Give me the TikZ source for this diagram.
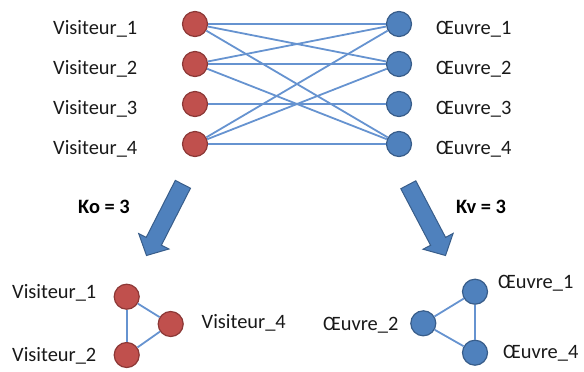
\documentclass[tikz,border=0pt]{standalone}
\usepackage{fontspec}
\setmainfont{Carlito}
\definecolor{redfill}{HTML}{C0504D}
\definecolor{redline}{HTML}{8C3836}
\definecolor{bluefill}{HTML}{4F81BD}
\definecolor{blueline}{HTML}{385D8A}
\definecolor{edgecol}{HTML}{6693D0}
\begin{document}
\begin{tikzpicture}[x=1bp,y=-1bp,
  vis/.style={circle,fill=redfill,draw=redline,line width=1.2bp,minimum size=25bp,inner sep=0},
  oeu/.style={circle,fill=bluefill,draw=blueline,line width=1.2bp,minimum size=25bp,inner sep=0},
  lbl/.style={anchor=base west,inner sep=0,font=\fontsize{20.5}{24}\selectfont,text=black!90},
  klbl/.style={anchor=base west,inner sep=0,font=\fontsize{20.5}{24}\selectfont\bfseries},
  edge/.style={draw=edgecol,line width=1.8bp},
  bigarrow/.style={fill=bluefill,draw=blueline,line width=1bp,line join=miter}]
\useasboundingbox (0,0) rectangle (584,371);
% top graph
\node[vis] (v1) at (195,24) {};
\node[vis] (v2) at (195,64) {};
\node[vis] (v3) at (195,104) {};
\node[vis] (v4) at (195,144) {};
\node[oeu] (o1) at (399,24) {};
\node[oeu] (o2) at (399,64) {};
\node[oeu] (o3) at (399,104) {};
\node[oeu] (o4) at (399,144) {};
\node[lbl] (lv1) at (53,34.3) {Visiteur\_1};
\node[lbl] (lv2) at (53,74.3) {Visiteur\_2};
\node[lbl] (lv3) at (53,114.3) {Visiteur\_3};
\node[lbl] (lv4) at (53,154.3) {Visiteur\_4};
\node[lbl] (lo1) at (436,34.3) {Œuvre\_1};
\node[lbl] (lo2) at (436,74.3) {Œuvre\_2};
\node[lbl] (lo3) at (436,114.3) {Œuvre\_3};
\node[lbl] (lo4) at (436,154.3) {Œuvre\_4};
\foreach \a/\b in {v1/o1,v1/o2,v1/o4,v2/o1,v2/o2,v2/o4,v3/o3,v4/o1,v4/o2,v4/o4}
  \draw[edge] (\a) -- (\b);
% arrows
\draw[bigarrow] (175.3,180.4) -- (190.5,188.2) -- (161.4,245.2) -- (168.9,249.0)
  -- (146.5,255.5) -- (138.7,233.6) -- (146.2,237.4) -- cycle;
\draw[bigarrow] (400.8,188.7) -- (415.8,180.8) -- (445.6,237.4) -- (453.1,233.4)
  -- (445.5,255.5) -- (423.0,249.2) -- (430.6,245.3) -- cycle;
\node[klbl] (ko) at (78,213.3) {Ko = 3};
\node[klbl] (kv) at (456,213.3) {Kv = 3};
% bottom left
\node[vis] (bv1) at (126.7,296.7) {};
\node[vis] (bv4) at (170.7,324) {};
\node[vis] (bv2) at (126.7,355) {};
\draw[edge] (bv1) -- (bv4);
\draw[edge] (bv1) -- (bv2);
\draw[edge] (bv2) -- (bv4);
\node[lbl] (lbv1) at (12,298) {Visiteur\_1};
\node[lbl] (lbv4) at (201.5,328.3) {Visiteur\_4};
\node[lbl] (lbv2) at (12,361.7) {Visiteur\_2};
% bottom right
\node[oeu] (bo1) at (475,291.7) {};
\node[oeu] (bo2) at (423.3,323.3) {};
\node[oeu] (bo4) at (475,352.7) {};
\draw[edge] (bo2) -- (bo1);
\draw[edge] (bo2) -- (bo4);
\draw[edge] (bo1) -- (bo4);
\node[lbl] (lbo1) at (498,288.3) {Œuvre\_1};
\node[lbl] (lbo2) at (323,330) {Œuvre\_2};
\node[lbl] (lbo4) at (503,358.3) {Œuvre\_4};
\end{tikzpicture}
\end{document}
